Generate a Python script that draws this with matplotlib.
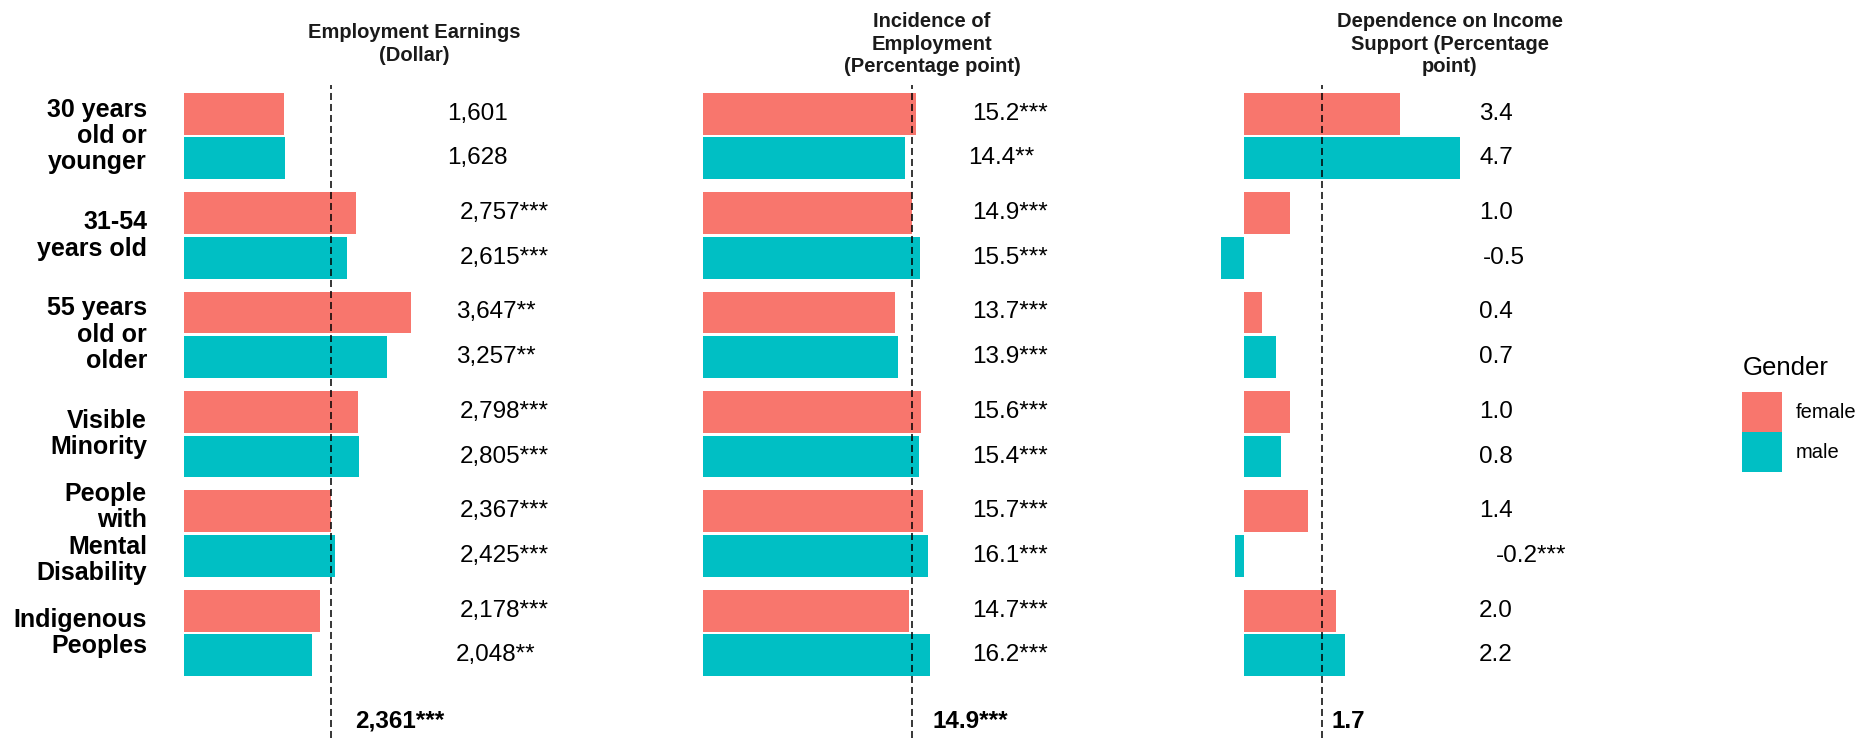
import matplotlib
matplotlib.use("Agg")
import matplotlib.pyplot as plt
from matplotlib.patches import Patch
import numpy as np

plt.rcParams['font.family'] = ['Liberation Sans', 'DejaVu Sans']

groups = ["30 years\nold or\nyounger", "31-54\nyears old", "55 years\nold or\nolder",
          "Visible\nMinority", "People\nwith\nMental\nDisability", "Indigenous\nPeoples"]
genders = ["female", "male"]
colors = {"female": "#F8766D", "male": "#00BFC4"}

# employment earnings (dollar)
earn_female = [1601, 2757, 3647, 2798, 2367, 2178]
earn_male = [1628, 2615, 3257, 2805, 2425, 2048]
earn_female_sig = ["", "***", "**", "***", "***", "***"]
earn_male_sig = ["", "***", "**", "***", "***", "**"]
earn_all, earn_all_sig = 2361, "***"

# incidence of employment (percentage point)
emp_female = [15.2, 14.9, 13.7, 15.6, 15.7, 14.7]
emp_male = [14.4, 15.5, 13.9, 15.4, 16.1, 16.2]
emp_female_sig = ["***", "***", "***", "***", "***", "***"]
emp_male_sig = ["**", "***", "***", "***", "***", "***"]
emp_all, emp_all_sig = 14.9, "***"

# dependence on income support (percentage point)
inc_female = [3.4, 1.0, 0.4, 1.0, 1.4, 2.0]
inc_male = [4.7, -0.5, 0.7, 0.8, -0.2, 2.2]
inc_female_sig = ["", "", "", "", "", ""]
inc_male_sig = ["", "", "", "", "***", ""]
inc_all, inc_all_sig = 1.7, ""

titles = ["Employment Earnings\n(Dollar)",
          "Incidence of\nEmployment\n(Percentage point)",
          "Dependence on Income\nSupport (Percentage\npoint)"]

panels = [
    (earn_female, earn_male, earn_female_sig, earn_male_sig, earn_all, earn_all_sig, "{:,.0f}"),
    (emp_female, emp_male, emp_female_sig, emp_male_sig, emp_all, emp_all_sig, "{:.1f}"),
    (inc_female, inc_male, inc_female_sig, inc_male_sig, inc_all, inc_all_sig, "{:.1f}"),
]

# layout in pixels: axes left/right, zero position, px per unit, label anchor, title centre
W, H = 1858, 738
layout = [
    (160, 600, 184, 0.06226, 420, 414),
    (680, 1100, 703, 14.0, 938, 932),
    (1180, 1600, 1244, 46.0, 1464, 1450),
]
top_px = 85
row0_px, row_step = 136, 99.4

fig = plt.figure(figsize=(W / 100, H / 100), dpi=100)
y = np.arange(len(groups))
shift_texts = []

for i, ((fem, mal, fsig, msig, avg, asig, fmt), (l, r, zero, scale, anchor, tc)) in enumerate(zip(panels, layout)):
    ax = fig.add_axes([l / W, 0, (r - l) / W, 1 - top_px / H])
    ax.set_xlim((l - zero) / scale, (r - zero) / scale)
    ax.set_ylim((H - row0_px) / row_step, (top_px - row0_px) / row_step)

    ax.barh(y - 0.225, fem, height=0.42, color=colors["female"])
    ax.barh(y + 0.225, mal, height=0.42, color=colors["male"])
    ax.axvline(avg, color="black", lw=1.1, ls=(0, (4.6, 2.6)))

    xlab = (anchor - zero) / scale
    for yy, v, s in zip(y - 0.225, fem, fsig):
        t = ax.annotate(fmt.format(v) + s, xy=(xlab, yy), xytext=(0, 0), textcoords="offset pixels",
                        ha="left", va="center", fontsize=17.5)
        shift_texts.append((t, 0.45))
    for yy, v, s in zip(y + 0.225, mal, msig):
        t = ax.annotate(fmt.format(v) + s, xy=(xlab, yy), xytext=(0, 0), textcoords="offset pixels",
                        ha="left", va="center", fontsize=17.5)
        shift_texts.append((t, 0.45))

    t = ax.annotate(fmt.format(avg) + asig, xy=(avg, (721 - row0_px) / row_step), xytext=(0, 0),
                    textcoords="offset pixels", ha="left", va="center", fontsize=17.5, fontweight="bold")
    shift_texts.append((t, 0.27))

    for sp in ax.spines.values():
        sp.set_visible(False)
    ax.set_xticks([])
    if i == 0:
        ax.set_yticks(y)
        ax.set_yticklabels(groups, fontsize=18, fontweight="bold", linespacing=1.13)
        for lab in ax.get_yticklabels():
            lab.set_va("center")
        ax.tick_params(axis="y", length=0, pad=(l - 147) * 0.72)
    else:
        ax.set_yticks([])

    fig.text(tc / W, 1 - 44 / H, titles[i], ha="center", va="center", fontsize=14.5,
             fontweight="bold", color="#1a1a1a", linespacing=1.22)

# legend
fig.text(1743 / W, 1 - 375 / H, "Gender", ha="left", va="baseline", fontsize=18.5)
handles = [Patch(facecolor=colors[g]) for g in genders]
fig.legend(handles, genders, loc="upper left", bbox_to_anchor=(1742 / W, 1 - 392 / H),
           frameon=False, fontsize=14.5, handlelength=2, handleheight=2.68,
           labelspacing=0, handletextpad=0.65, borderpad=0, borderaxespad=0)

# nudge labels right by a fraction of their own width
fig.canvas.draw()
renderer = fig.canvas.get_renderer()
for t, k in shift_texts:
    w = t.get_window_extent(renderer).width
    t.xyann = (k * w, 0)

fig.savefig("out.png", dpi=100)
